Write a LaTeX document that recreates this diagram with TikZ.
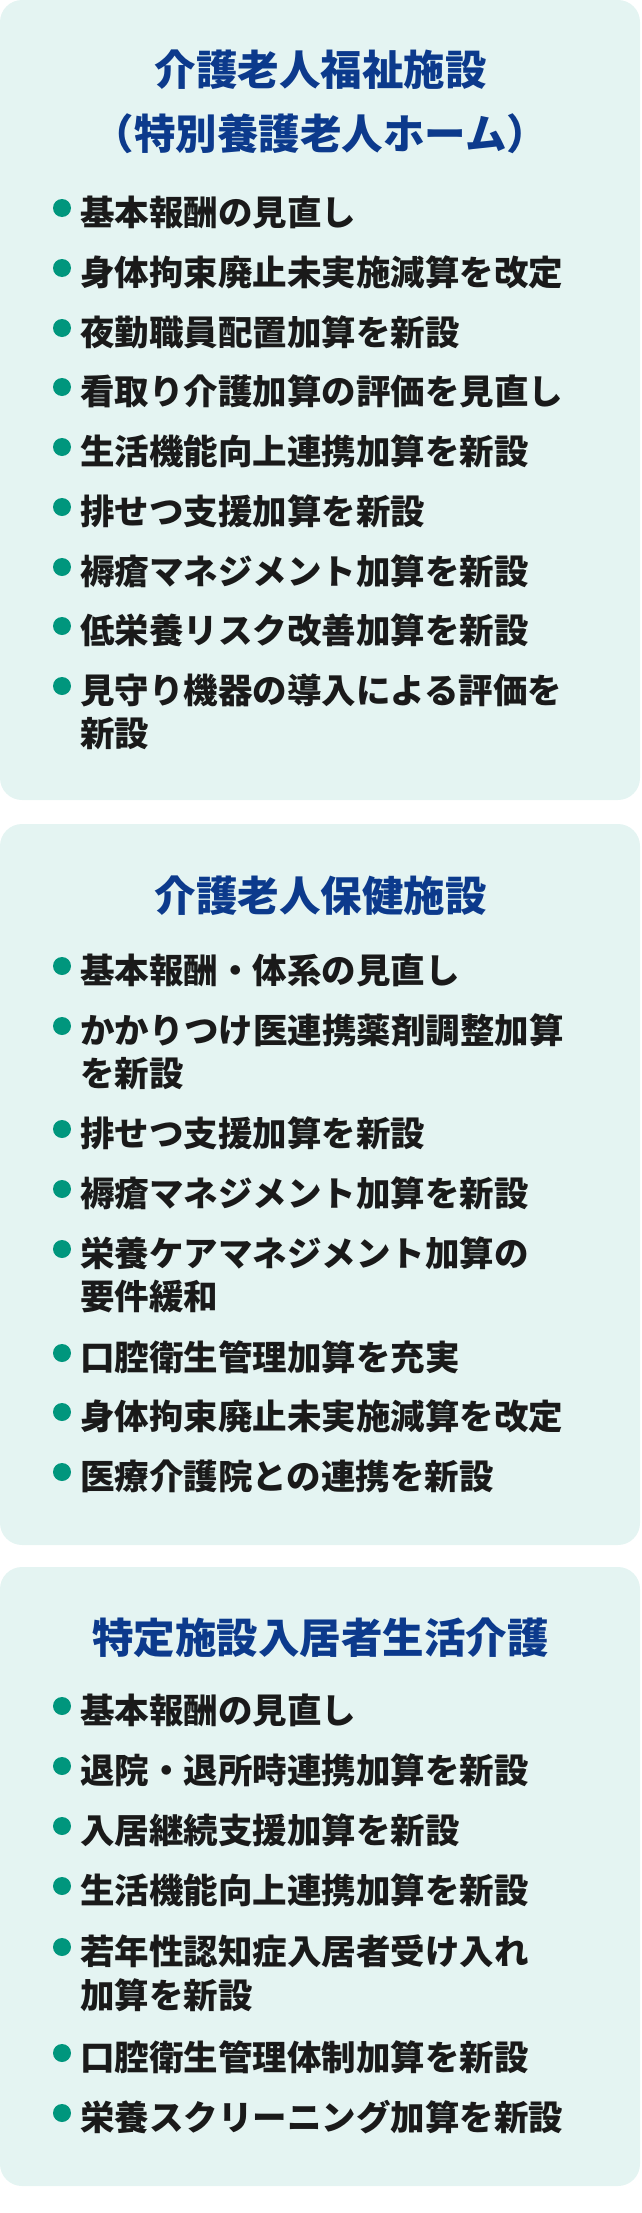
\documentclass[tikz,border=0pt]{standalone}
\usepackage{fontspec}
\setmainfont{Noto Sans CJK JP}
\usepackage{tikz}
\usetikzlibrary{positioning}
\usepackage{xcolor}
\definecolor{kastenbg}{RGB}{228,244,242}
\definecolor{titelblau}{RGB}{12,58,140}
\definecolor{punktgruen}{RGB}{0,150,125}
\definecolor{textschwarz}{RGB}{26,26,26}

\begin{document}
\begin{tikzpicture} [x=1pt, y=1pt
    , kasten/.style={fill=kastenbg,rounded corners=22pt}
    , titel/.style={font=\bfseries\fontsize{41.5}{50}\selectfont,text=titelblau,inner sep=0pt,text height=36.5pt,text depth=5pt}
    , eintrag/.style={anchor=west,font=\bfseries\fontsize{34.5}{43}\selectfont,text=textschwarz,inner sep=0pt,text height=30.4pt,text depth=4.1pt}
    , punkt/.style={circle,fill=punktgruen,inner sep=0pt,minimum size=18pt}
  ]
  \useasboundingbox (0,0) rectangle (641,-2213);
  \fill[kasten] (0,0) rectangle (640,-800);
  \fill[kasten] (0,-824) rectangle (640,-1545);
  \fill[kasten] (0,-1567) rectangle (640,-2186);

  % erster Kasten
  \node[titel] (titel1) at (320.5,-70) {介護老人福祉施設};
  \node[titel] (titel1b) at (320.5,-134) {（特別養護老人ホーム）};
  \foreach \y/\t [count=\i] in {212/基本報酬の見直し, 272/身体拘束廃止未実施減算を改定,
    332/夜勤職員配置加算を新設, 391/看取り介護加算の評価を見直し,
    451/生活機能向上連携加算を新設, 511/排せつ支援加算を新設,
    571/褥瘡マネジメント加算を新設, 630/低栄養リスク改善加算を新設,
    690/見守り機器の導入による評価を}
  {
    \node[punkt] (p1-\i) at (62,-\y+4) {};
    \node[eintrag] (e1-\i) at (80,-\y) {\t};
  }
  \node[eintrag,below=8pt of e1-9.south west,anchor=north west] (e1-9b) {新設};

  % zweiter Kasten
  \node[titel] (titel2) at (320.5,-896) {介護老人保健施設};
  \foreach \y/\t [count=\i] in {970/基本報酬・体系の見直し, 1030/かかりつけ医連携薬剤調整加算,
    1133/排せつ支援加算を新設, 1193/褥瘡マネジメント加算を新設,
    1253/栄養ケアマネジメント加算の, 1357/口腔衛生管理加算を充実,
    1416/身体拘束廃止未実施減算を改定, 1476/医療介護院との連携を新設}
  {
    \node[punkt] (p2-\i) at (62,-\y+4) {};
    \node[eintrag] (e2-\i) at (80,-\y) {\t};
  }
  \node[eintrag,below=8pt of e2-2.south west,anchor=north west] (e2-2b) {を新設};
  \node[eintrag,below=8pt of e2-5.south west,anchor=north west] (e2-5b) {要件緩和};

  % dritter Kasten
  \node[titel] (titel3) at (320.5,-1638) {特定施設入居者生活介護};
  \foreach \y/\t [count=\i] in {1710/基本報酬の見直し, 1770/退院・退所時連携加算を新設,
    1830/入居継続支援加算を新設, 1890/生活機能向上連携加算を新設,
    1951/若年性認知症入居者受け入れ, 2057/口腔衛生管理体制加算を新設,
    2117/栄養スクリーニング加算を新設}
  {
    \node[punkt] (p3-\i) at (62,-\y+4) {};
    \node[eintrag] (e3-\i) at (80,-\y) {\t};
  }
  \node[eintrag,below=9pt of e3-5.south west,anchor=north west] (e3-5b) {加算を新設};
\end{tikzpicture}
\end{document}
